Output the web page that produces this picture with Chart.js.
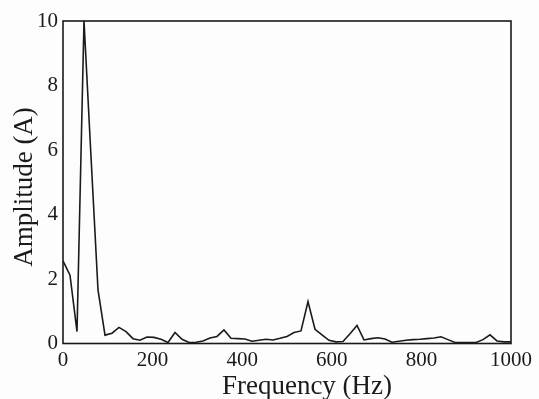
<!DOCTYPE html>
<html>
<head>
<meta charset="utf-8">
<script src="https://cdn.jsdelivr.net/npm/chart.js@4/dist/chart.umd.min.js"></script>
<style>
  html, body { margin: 0; padding: 0; background: #fdfdfd; }
  #wrap { width: 539px; height: 399px; position: relative; }
</style>
</head>
<body>
<div id="wrap"><canvas id="c"></canvas></div>
<script>
// spectrum sampled every 15.625 Hz
const freqStep = 15.625;
const amplitude = [
  2.56, 2.12, 0.37, 10.0, 5.8, 1.66, 0.26, 0.32, 0.50, 0.37,
  0.15, 0.10, 0.20, 0.19, 0.13, 0.03, 0.34, 0.13, 0.03, 0.04,
  0.08, 0.17, 0.22, 0.42, 0.16, 0.15, 0.14, 0.07, 0.10, 0.13,
  0.11, 0.16, 0.22, 0.34, 0.39, 1.30, 0.44, 0.27, 0.10, 0.05,
  0.06, 0.30, 0.56, 0.11, 0.15, 0.18, 0.14, 0.04, 0.07, 0.10,
  0.12, 0.13, 0.15, 0.17, 0.21, 0.12, 0.03, 0.03, 0.03, 0.03,
  0.12, 0.27, 0.08, 0.05, 0.05
];
const xTicks = [0, 200, 400, 600, 800, 1000];
const yTicks = [0, 2, 4, 6, 8, 10];
const xTitle = "Frequency (Hz)";
const yTitle = "Amplitude (A)";

const ink = "#1a1a1a";
const serif = "'Liberation Serif', 'DejaVu Serif', serif";

let points = amplitude.map((a, i) => ({x: i * freqStep, y: a}));

// box round the plot area, and the two axis titles (the x one sits off-centre)
const frame = {
  id: "frame",
  afterDraw(chart){
    let a = chart.chartArea, ctx = chart.ctx;
    ctx.save();
    ctx.strokeStyle = ink;
    ctx.lineWidth = 1.6;
    ctx.strokeRect(a.left, a.top, a.right - a.left, a.bottom - a.top);

    ctx.fillStyle = ink;
    ctx.font = "27px " + serif;
    ctx.textAlign = "center";
    ctx.textBaseline = "alphabetic";
    ctx.fillText(xTitle, 307, 394);

    ctx.translate(32, 187);
    ctx.rotate(-Math.PI / 2);
    ctx.fillText(yTitle, 0, 0);
    ctx.restore();
  }
};

new Chart(document.getElementById("c"), {
  type: "line",
  data: {
    datasets: [{
      data: points,
      borderColor: ink,
      borderWidth: 1.6,
      pointRadius: 0,
      fill: false,
      tension: 0
    }]
  },
  options: {
    responsive: true,
    maintainAspectRatio: false,
    animation: false,
    layout: { padding: { top: 21, right: 28, left: 0, bottom: 0 } },
    plugins: { legend: { display: false }, tooltip: { enabled: false } },
    scales: {
      x: {
        type: "linear",
        min: 0, max: 1000,
        afterBuildTicks: (ax) => { ax.ticks = xTicks.map(v => ({value: v})); },
        afterFit: (ax) => { ax.height = 55.5; },
        grid: { display: false, drawTicks: false },
        border: { display: false },
        ticks: { color: ink, font: { family: serif, size: 21 }, padding: 4, maxRotation: 0,
                 callback: (v) => String(v) }
      },
      y: {
        min: 0, max: 10,
        afterBuildTicks: (ax) => { ax.ticks = yTicks.map(v => ({value: v})); },
        afterFit: (ax) => { ax.width = 63; },
        grid: { display: false, drawTicks: false },
        border: { display: false },
        ticks: { color: ink, font: { family: serif, size: 21 }, padding: 5,
                 callback: (v) => String(v) }
      }
    }
  },
  plugins: [frame]
});
</script>
</body>
</html>
